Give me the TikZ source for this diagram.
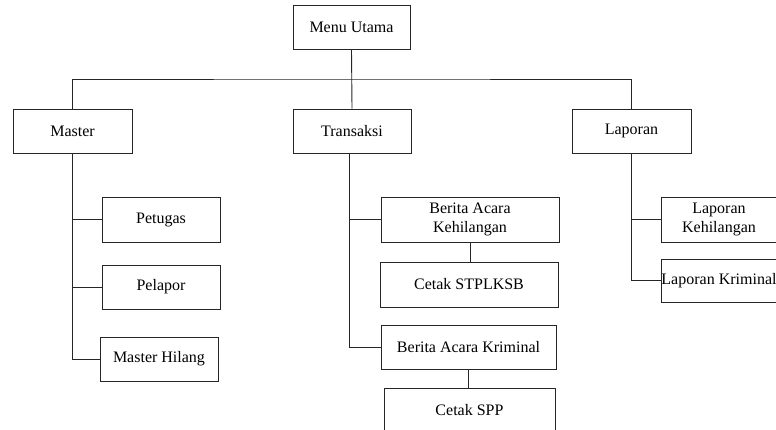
\documentclass[tikz,border=0pt]{standalone}
\usepackage{fontspec}
\setmainfont{Liberation Serif}
\begin{document}
\begin{tikzpicture}[x=1pt,y=-1pt,
  menubox/.style={draw=black!85, line width=0.9pt, rectangle, inner sep=0pt,
    minimum height=44pt, align=center,
    font=\fontsize{16}{18.5}\selectfont},
  link/.style={draw=black!85, line width=0.9pt}]
\useasboundingbox (0,0) rectangle (776,430);

% top level
\node[menubox, minimum width=117pt] (menu) at (351.5,27) {Menu Utama};
\node[menubox, minimum width=119pt] (master) at (72.5,131) {Master};
\node[menubox, minimum width=118pt] (transaksi) at (352,131) {Transaksi};
\node[menubox, minimum width=119pt] (laporan) at (631.5,131) {Laporan};

% Master submenu
\node[menubox, minimum width=118pt, minimum height=45pt] (petugas) at (161,219.5) {Petugas};
\node[menubox, minimum width=118pt] (pelapor) at (161,287) {Pelapor};
\node[menubox, minimum width=118pt] (mhilang) at (159,359) {Master Hilang};

% Transaksi submenu
\node[menubox, minimum width=178pt, minimum height=45pt] (bak) at (470,219.5) {Berita Acara\\Kehilangan};
\node[menubox, minimum width=178pt, minimum height=45pt] (stplksb) at (469,284.5) {Cetak STPLKSB};
\node[menubox, minimum width=175pt] (bakr) at (468.5,347) {Berita Acara Kriminal};
\node[menubox, minimum width=171pt] (spp) at (469.5,410) {Cetak SPP};

% Laporan submenu
\node[menubox, minimum width=116pt, minimum height=45pt] (lkeh) at (719,219.5) {Laporan\\Kehilangan};
\node[menubox, minimum width=116pt, minimum height=43pt] (lkrim) at (719,280.5) {Laporan Kriminal};

% connectors
\coordinate (bar) at (352,79);
\coordinate (ttrunk) at ([xshift=-3pt]transaksi.south);
\draw[link] (menu.south) -- (transaksi.north);
\draw[link] (master.north) |- (bar) -| (laporan.north);

\draw[link] (master.south) |- (mhilang.west);
\draw[link] (petugas.west) -- (petugas.west -| master.south);
\draw[link] (pelapor.west) -- (pelapor.west -| master.south);

\draw[link] (ttrunk) |- (bakr.west);
\draw[link] (bak.west) -- (bak.west -| ttrunk);
\draw[link] (bak.south) -- (bak.south |- stplksb.north);
\draw[link] (bakr.south) -- (bakr.south |- spp.north);

\draw[link] (laporan.south) |- (lkrim.west);
\draw[link] (lkeh.west) -- (lkeh.west -| laporan.south);
\end{tikzpicture}
\end{document}
